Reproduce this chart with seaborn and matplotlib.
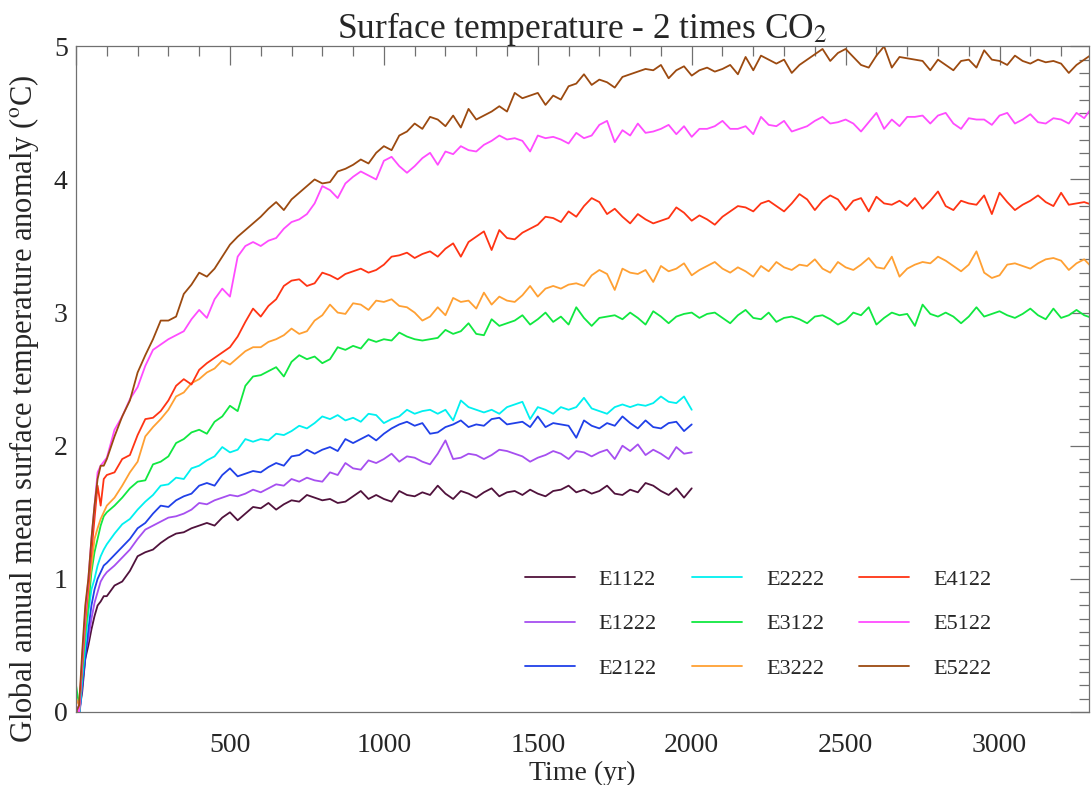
import numpy as np
import matplotlib
matplotlib.use("Agg")
import matplotlib.pyplot as plt
import seaborn as sns
from matplotlib.ticker import MultipleLocator, FuncFormatter

# time axis: 10-yr steps for the first century, then 25-yr steps
years_short = np.concatenate([np.arange(0, 100, 10), np.arange(100, 2001, 25)])
years_long = np.concatenate([np.arange(0, 100, 10), np.arange(100, 3301, 25)])

E1122 = [0.00, 0.00, 0.15, 0.40, 0.50, 0.62, 0.72, 0.80, 0.83, 0.87,
         0.87, 0.95, 0.98, 1.06, 1.17, 1.20, 1.22, 1.27, 1.31, 1.34, 1.35, 1.38, 1.40, 1.42, 1.40, 1.46,
         1.50, 1.44, 1.49, 1.54, 1.53, 1.57, 1.52, 1.56, 1.59, 1.58, 1.63, 1.61, 1.59, 1.60, 1.57, 1.58, 1.62, 1.66, 1.60, 1.63,
         1.60, 1.58, 1.66, 1.63, 1.62, 1.65, 1.63, 1.70, 1.64, 1.60, 1.66, 1.64, 1.61, 1.65, 1.68, 1.62, 1.65, 1.66, 1.63, 1.67,
         1.64, 1.62, 1.66, 1.67, 1.70, 1.65, 1.67, 1.64, 1.66, 1.70, 1.64, 1.63, 1.67, 1.65, 1.72, 1.70, 1.66, 1.63, 1.68, 1.61,
         1.68]

E1222 = [0.00, -0.03, 0.20, 0.45, 0.55, 0.70, 0.82, 0.90, 0.98, 1.02,
         1.05, 1.10, 1.16, 1.22, 1.30, 1.37, 1.40, 1.43, 1.46, 1.47, 1.49, 1.52, 1.57, 1.56, 1.59, 1.61,
         1.63, 1.62, 1.64, 1.67, 1.65, 1.68, 1.71, 1.70, 1.75, 1.73, 1.76, 1.74, 1.73, 1.80, 1.78, 1.87, 1.83, 1.82, 1.89, 1.87,
         1.90, 1.94, 1.88, 1.92, 1.91, 1.88, 1.86, 1.94, 2.04, 1.90, 1.91, 1.94, 1.93, 1.90, 1.93, 1.97, 1.96, 1.94, 1.92, 1.88,
         1.91, 1.93, 1.96, 1.94, 1.90, 1.96, 1.95, 1.92, 1.95, 1.97, 1.90, 2.00, 1.96, 2.01, 1.93, 1.97, 1.94, 1.90, 1.99, 1.94,
         1.95]

E2122 = [0.00, -0.05, 0.20, 0.40, 0.62, 0.80, 0.92, 1.00, 1.05, 1.10,
         1.12, 1.18, 1.24, 1.30, 1.38, 1.42, 1.49, 1.55, 1.54, 1.59, 1.62, 1.64, 1.70, 1.72, 1.70, 1.78,
         1.83, 1.77, 1.79, 1.81, 1.80, 1.84, 1.87, 1.85, 1.92, 1.93, 1.97, 1.94, 1.97, 1.99, 1.96, 2.05, 2.02, 2.05, 2.08, 2.04,
         2.09, 2.13, 2.16, 2.18, 2.15, 2.17, 2.09, 2.10, 2.14, 2.16, 2.19, 2.14, 2.16, 2.15, 2.20, 2.21, 2.16, 2.17, 2.18, 2.14,
         2.22, 2.14, 2.17, 2.16, 2.15, 2.06, 2.19, 2.15, 2.13, 2.17, 2.15, 2.22, 2.17, 2.13, 2.19, 2.14, 2.13, 2.17, 2.18, 2.11,
         2.16]

E2222 = [0.05, -0.05, 0.25, 0.50, 0.75, 0.92, 1.00, 1.10, 1.17, 1.22,
         1.26, 1.34, 1.41, 1.45, 1.52, 1.58, 1.63, 1.70, 1.71, 1.76, 1.75, 1.83, 1.85, 1.89, 1.92, 1.99,
         1.95, 1.97, 2.05, 2.03, 2.05, 2.04, 2.09, 2.08, 2.11, 2.15, 2.13, 2.17, 2.22, 2.20, 2.23, 2.19, 2.21, 2.18, 2.24, 2.23,
         2.17, 2.20, 2.22, 2.27, 2.24, 2.26, 2.27, 2.24, 2.27, 2.19, 2.34, 2.29, 2.27, 2.25, 2.27, 2.24, 2.29, 2.31, 2.33, 2.20,
         2.29, 2.27, 2.24, 2.29, 2.27, 2.29, 2.36, 2.28, 2.26, 2.24, 2.29, 2.31, 2.29, 2.31, 2.30, 2.32, 2.37, 2.33, 2.32, 2.37,
         2.27]

E3122 = [0.20, 0.05, 0.30, 0.60, 0.80, 1.05, 1.20, 1.30, 1.40, 1.47,
         1.50, 1.55, 1.61, 1.68, 1.73, 1.74, 1.86, 1.88, 1.92, 2.02, 2.05, 2.10, 2.12, 2.09, 2.18, 2.22,
         2.30, 2.26, 2.45, 2.52, 2.53, 2.56, 2.59, 2.52, 2.63, 2.68, 2.65, 2.67, 2.62, 2.65, 2.74, 2.72, 2.75, 2.73, 2.80, 2.78,
         2.80, 2.79, 2.85, 2.82, 2.80, 2.79, 2.80, 2.81, 2.87, 2.84, 2.86, 2.92, 2.84, 2.83, 2.95, 2.90, 2.92, 2.94, 2.98, 2.91,
         2.95, 3.00, 2.93, 2.97, 2.91, 3.04, 2.96, 2.90, 2.96, 2.97, 2.98, 2.95, 3.00, 2.96, 2.91, 3.01, 2.97, 2.92, 2.97, 2.99,
         3.00, 2.96, 2.99, 3.00, 2.96, 2.92, 2.98, 3.02, 2.96, 2.95, 3.00, 2.93, 2.96, 2.97, 2.95, 2.92, 2.97, 2.98, 2.95, 2.91,
         2.94, 3.00, 2.98, 3.04, 2.91, 2.96, 3.00, 2.98, 2.99, 2.90, 3.06, 2.99, 2.97, 3.00, 2.97, 2.92, 2.97, 3.04, 2.97, 2.99,
         3.01, 2.98, 2.96, 2.99, 3.03, 2.98, 2.95, 3.03, 2.96, 2.98, 3.02, 2.98, 2.96]

E3222 = [0.10, 0.05, 0.35, 0.65, 0.90, 1.10, 1.30, 1.38, 1.45, 1.50,
         1.55, 1.61, 1.70, 1.80, 1.88, 2.07, 2.14, 2.20, 2.27, 2.37, 2.40, 2.47, 2.50, 2.55, 2.58, 2.64,
         2.61, 2.66, 2.71, 2.74, 2.74, 2.78, 2.80, 2.83, 2.88, 2.84, 2.86, 2.94, 2.98, 3.06, 3.00, 2.99, 3.07, 3.06, 3.02, 3.09,
         3.08, 3.10, 3.05, 3.04, 3.00, 2.94, 2.97, 3.04, 2.98, 3.11, 3.08, 3.09, 3.03, 3.15, 3.06, 3.12, 3.09, 3.08, 3.13, 3.20,
         3.12, 3.18, 3.20, 3.18, 3.21, 3.22, 3.20, 3.28, 3.32, 3.29, 3.17, 3.33, 3.30, 3.29, 3.32, 3.23, 3.35, 3.31, 3.33, 3.37,
         3.28, 3.32, 3.35, 3.38, 3.33, 3.30, 3.34, 3.31, 3.27, 3.35, 3.31, 3.38, 3.34, 3.32, 3.36, 3.35, 3.40, 3.33, 3.30, 3.38,
         3.34, 3.32, 3.36, 3.41, 3.34, 3.33, 3.42, 3.27, 3.33, 3.36, 3.38, 3.37, 3.42, 3.39, 3.35, 3.31, 3.36, 3.46, 3.30, 3.26,
         3.28, 3.36, 3.37, 3.35, 3.33, 3.37, 3.40, 3.41, 3.39, 3.32, 3.37, 3.40, 3.34]

E4122 = [0.00, 0.00, 0.35, 0.70, 0.95, 1.20, 1.45, 1.70, 1.55, 1.75,
         1.78, 1.80, 1.90, 1.93, 2.08, 2.20, 2.21, 2.26, 2.34, 2.45, 2.50, 2.46, 2.57, 2.62, 2.66, 2.70,
         2.74, 2.82, 2.93, 3.03, 2.97, 3.05, 3.10, 3.20, 3.24, 3.25, 3.20, 3.22, 3.30, 3.28, 3.25, 3.29, 3.31, 3.33, 3.30, 3.32,
         3.36, 3.42, 3.43, 3.45, 3.41, 3.44, 3.46, 3.42, 3.48, 3.52, 3.42, 3.53, 3.57, 3.61, 3.47, 3.62, 3.56, 3.55, 3.60, 3.63,
         3.66, 3.72, 3.71, 3.68, 3.76, 3.72, 3.80, 3.86, 3.83, 3.74, 3.78, 3.72, 3.67, 3.74, 3.70, 3.67, 3.69, 3.71, 3.79, 3.75,
         3.69, 3.73, 3.70, 3.66, 3.72, 3.76, 3.80, 3.79, 3.76, 3.82, 3.84, 3.80, 3.76, 3.82, 3.89, 3.85, 3.77, 3.84, 3.88, 3.85,
         3.77, 3.84, 3.86, 3.76, 3.87, 3.82, 3.81, 3.84, 3.80, 3.86, 3.78, 3.84, 3.91, 3.80, 3.77, 3.84, 3.82, 3.81, 3.88, 3.74,
         3.90, 3.83, 3.77, 3.81, 3.84, 3.88, 3.83, 3.80, 3.90, 3.81, 3.82, 3.83, 3.81]

E5122 = [0.05, 0.00, 0.40, 0.75, 1.00, 1.30, 1.55, 1.80, 1.85, 1.88,
         1.91, 2.12, 2.22, 2.35, 2.44, 2.60, 2.72, 2.76, 2.80, 2.83, 2.86, 2.95, 3.02, 2.96, 3.10, 3.18,
         3.12, 3.42, 3.50, 3.53, 3.50, 3.54, 3.56, 3.63, 3.68, 3.70, 3.74, 3.82, 3.95, 3.92, 3.86, 3.97, 4.02, 4.06, 4.03, 4.00,
         4.14, 4.17, 4.10, 4.05, 4.10, 4.16, 4.20, 4.11, 4.21, 4.19, 4.25, 4.22, 4.21, 4.26, 4.29, 4.33, 4.30, 4.31, 4.29, 4.21,
         4.33, 4.31, 4.32, 4.30, 4.27, 4.35, 4.31, 4.33, 4.41, 4.44, 4.28, 4.37, 4.33, 4.42, 4.35, 4.36, 4.38, 4.41, 4.34, 4.40,
         4.32, 4.38, 4.38, 4.40, 4.44, 4.38, 4.38, 4.40, 4.34, 4.47, 4.41, 4.40, 4.44, 4.36, 4.38, 4.40, 4.44, 4.47, 4.42, 4.43,
         4.45, 4.42, 4.36, 4.43, 4.50, 4.38, 4.45, 4.40, 4.47, 4.47, 4.48, 4.42, 4.48, 4.50, 4.42, 4.38, 4.46, 4.45, 4.45, 4.41,
         4.48, 4.50, 4.42, 4.45, 4.49, 4.43, 4.42, 4.46, 4.45, 4.42, 4.50, 4.46, 4.54]

E5222 = [0.00, 0.05, 0.45, 0.80, 1.00, 1.30, 1.55, 1.75, 1.85, 1.85,
         1.90, 2.07, 2.22, 2.34, 2.55, 2.68, 2.80, 2.94, 2.94, 2.97, 3.14, 3.21, 3.30, 3.27, 3.33, 3.42,
         3.51, 3.57, 3.62, 3.67, 3.72, 3.78, 3.83, 3.77, 3.85, 3.90, 3.95, 4.00, 3.97, 3.98, 4.06, 4.08, 4.11, 4.15, 4.12, 4.20,
         4.25, 4.22, 4.33, 4.36, 4.42, 4.38, 4.47, 4.45, 4.40, 4.48, 4.39, 4.53, 4.45, 4.48, 4.51, 4.55, 4.51, 4.65, 4.61, 4.63,
         4.65, 4.56, 4.63, 4.60, 4.70, 4.72, 4.79, 4.71, 4.75, 4.73, 4.69, 4.77, 4.79, 4.81, 4.83, 4.82, 4.86, 4.76, 4.82, 4.85,
         4.78, 4.82, 4.84, 4.81, 4.83, 4.86, 4.79, 4.92, 4.82, 4.93, 4.90, 4.87, 4.90, 4.80, 4.86, 4.90, 4.94, 4.98, 4.89, 4.95,
         4.98, 4.92, 4.86, 4.84, 4.93, 5.00, 4.84, 4.92, 4.91, 4.90, 4.89, 4.82, 4.90, 4.86, 4.82, 4.89, 4.90, 4.84, 4.97, 4.90,
         4.89, 4.86, 4.93, 4.89, 4.87, 4.90, 4.88, 4.89, 4.87, 4.80, 4.86, 4.90, 4.94]

runs = ["E1122", "E1222", "E2122", "E2222", "E3122", "E3222", "E4122", "E5122", "E5222"]
series = [E1122, E1222, E2122, E2222, E3122, E3222, E4122, E5122, E5222]
colors = ["#50123c", "#a64ff0", "#2040e8", "#00f0f0", "#10e840",
          "#ffa033", "#ff3414", "#ff4cff", "#9c4a10"]

sns.set_theme(style="white")
plt.rcParams['font.family'] = ['Liberation Serif', 'DejaVu Serif']
plt.rcParams['mathtext.fontset'] = 'stix'

fig = plt.figure(figsize=(10.91, 7.85), dpi=100)
ax = fig.add_axes([0.0697, 0.093, 0.9283, 0.848])

for name, vals, col in zip(runs, series, colors):
    yrs = years_short if len(vals) == len(years_short) else years_long
    sns.lineplot(x=yrs, y=vals, color=col, linewidth=1.3, label=name, ax=ax)

ax.set_xlim(0, 3290)
ax.set_ylim(0, 5)
ax.xaxis.set_major_locator(MultipleLocator(500))
ax.xaxis.set_minor_locator(MultipleLocator(100))
ax.yaxis.set_major_locator(MultipleLocator(1))
ax.yaxis.set_minor_locator(MultipleLocator(0.1))
ax.xaxis.set_major_formatter(FuncFormatter(lambda v, p: "" if v == 0 else f"{v:.0f}"))
ax.yaxis.set_major_formatter(FuncFormatter(lambda v, p: f"{v:.0f}"))

edge = "#707070"
for s in ax.spines.values():
    s.set_color(edge)
    s.set_linewidth(0.9)
ax.tick_params(which="both", direction="in", top=True, right=True, color=edge, width=0.9)
ax.tick_params(which="major", length=14, labelsize=20)
ax.tick_params(which="minor", length=7)
ax.tick_params(axis="x", which="major", pad=15)
ax.tick_params(axis="y", which="major", pad=6)

ax.set_xlabel("Time (yr)", fontsize=20, labelpad=2)
ax.set_ylabel(r"Global annual mean surface temperature anomaly ($^{\rm o}$C)", fontsize=22)
ax.yaxis.set_label_coords(-0.035, 0.455)
ax.set_title(r"Surface temperature - 2 times CO$_2$", fontsize=25.5, pad=6)

ax.legend(ncol=3, frameon=False, loc="upper left", bbox_to_anchor=(0.443, 0.214),
          fontsize=16, handlelength=2.25, handletextpad=1.08, columnspacing=1.58,
          labelspacing=1.07, borderpad=0, borderaxespad=0)

fig.savefig("out.png", dpi=100)
